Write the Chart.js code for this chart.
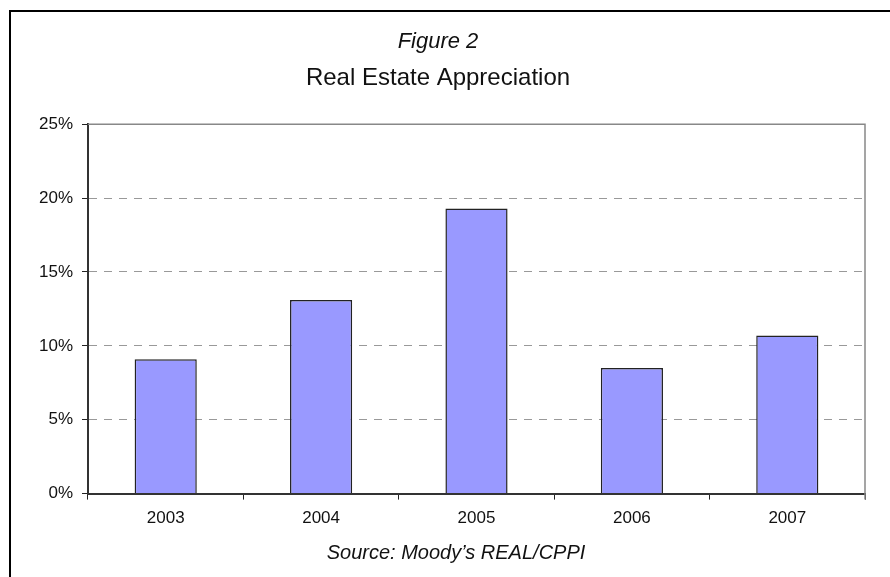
<!DOCTYPE html>
<html>
<head>
<meta charset="utf-8">
<title>Real Estate Appreciation</title>
<script src="https://cdn.jsdelivr.net/npm/chart.js@4.4.0/dist/chart.umd.min.js"></script>
<style>
  html, body { margin: 0; padding: 0; background: #fff; overflow: hidden; }
  #frame {
    position: absolute; left: 9px; top: 10px;
    width: 890px; height: 567px;
    border-left: 2px solid #000; border-top: 2px solid #000;
  }
  canvas { display: block; }
</style>
</head>
<body>
<div id="frame"><canvas id="canvas" width="890" height="565"></canvas></div>
<script>
const years = ['2003', '2004', '2005', '2006', '2007'];
const appreciation = [9.1, 13.1, 19.3, 8.5, 10.7];
const yTicks = [0, 5, 10, 15, 20, 25];
const figureLabel = 'Figure 2';
const chartTitle = 'Real Estate Appreciation';
const sourceNote = 'Source: Moody\u2019s REAL/CPPI';

const tickFont = { family: '"Liberation Sans", Arial', size: 17 };

// grey frame on the top/right of the plot, plus the source line under the axis
const frameAndSource = {
  id: 'frameAndSource',
  beforeDatasetsDraw(chart) {
    const { ctx, chartArea: a } = chart;
    ctx.save();
    ctx.strokeStyle = '#888';
    ctx.lineWidth = 1.5;
    ctx.beginPath();
    ctx.moveTo(a.left, a.top);
    ctx.lineTo(a.right, a.top);
    ctx.lineTo(a.right, a.bottom + 6);
    ctx.stroke();
    ctx.restore();
  },
  afterDraw(chart) {
    const ctx = chart.ctx;
    ctx.save();
    ctx.font = 'italic 20px "Liberation Sans", Arial';
    ctx.fillStyle = '#111';
    ctx.textAlign = 'center';
    ctx.fillText(sourceNote, chart.width / 2, 547);
    ctx.restore();
  }
};

const ctx = document.getElementById('canvas');

new Chart(ctx, {
  type: 'bar',
  data: {
    labels: years,
    datasets: [{
      data: appreciation,
      backgroundColor: '#9999ff',
      borderColor: '#222',
      borderWidth: 1.5,
      categoryPercentage: 1,
      barPercentage: 0.4,
    }]
  },
  plugins: [frameAndSource],
  options: {
    responsive: false,
    animation: false,
    layout: { padding: { left: 0, right: 36, top: 0, bottom: 39 } },
    plugins: {
      legend: { display: false },
      tooltip: { enabled: false },
      title: {
        display: true,
        text: figureLabel,
        color: '#111',
        font: { family: '"Liberation Sans", Arial', size: 22, style: 'italic', weight: 'normal' },
        padding: { top: 17, bottom: 9 }
      },
      subtitle: {
        display: true,
        text: chartTitle,
        color: '#111',
        font: { family: '"Liberation Sans", Arial', size: 24, weight: 'normal' },
        padding: { top: 0, bottom: 31 }
      }
    },
    scales: {
      x: {
        grid: { offset: true, drawOnChartArea: false, tickColor: '#222', tickLength: 6 },
        border: { color: '#333', width: 2 },
        ticks: { color: '#111', font: tickFont, padding: 9 }
      },
      y: {
        min: 0,
        max: 25,
        afterBuildTicks: (scale) => { scale.ticks = yTicks.map(v => ({ value: v })); },
        afterFit: (scale) => { scale.width = 77; },
        grid: { color: '#999', lineWidth: 1, tickColor: '#222', tickLength: 6 },
        border: { color: '#333', width: 2, dash: [8, 7] },
        ticks: { color: '#111', font: tickFont, padding: 9, callback: v => v + '%' }
      }
    }
  }
});
</script>
</body>
</html>
